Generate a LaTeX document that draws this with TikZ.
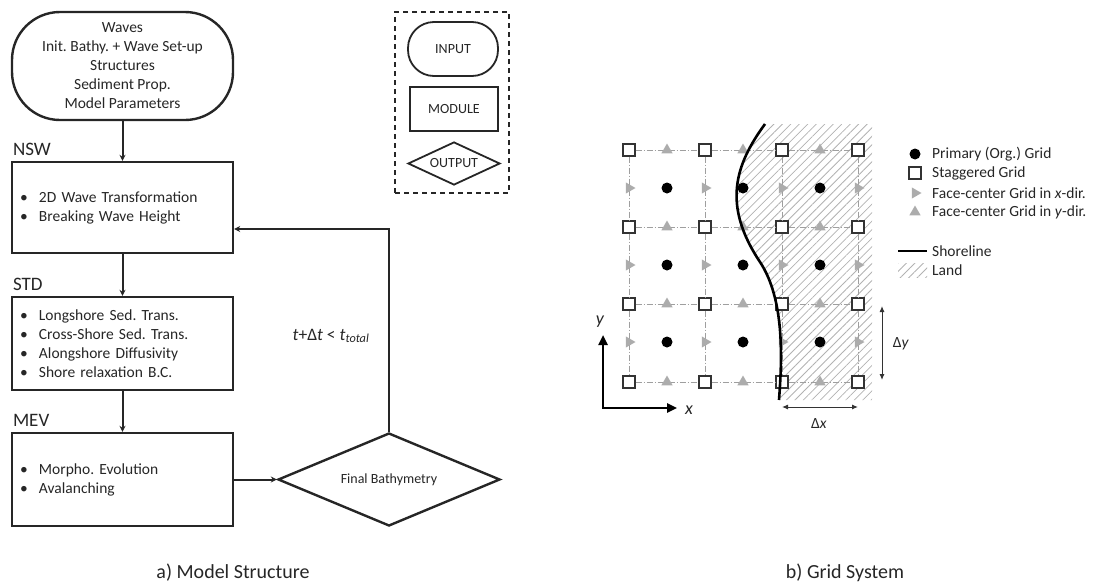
\documentclass[tikz,border=0pt]{standalone}
\usepackage{fontspec}
\setmainfont{Carlito}
\usetikzlibrary{shapes.geometric,arrows.meta,positioning,patterns.meta}

\newcommand{\itm}{\makebox[19pt][l]{\textbullet}}
\frenchspacing

\begin{document}
\begin{tikzpicture}[x=1pt, y=-1pt,
  every node/.style={font=\fontsize{15.5}{19}\selectfont, text=black!85},
  inbox/.style={rectangle, rounded corners=48pt, draw=black!85, line width=2.4pt,
    align=center, minimum width=221pt, minimum height=108pt, inner sep=2pt},
  modbox/.style={rectangle, draw=black!85, line width=2.4pt, align=left,
    text width=205pt, inner xsep=8pt, minimum height=#1},
  outbox/.style={diamond, draw=black!85, line width=2.4pt, aspect=2.4,
    minimum width=222pt, minimum height=93pt, inner sep=1pt, font=\fontsize{14}{17}\selectfont},
  lab/.style={inner sep=0pt, font=\fontsize{19}{22}\selectfont},
  arr/.style={-{Stealth[length=6pt,width=6pt]}, line width=2pt, draw=black!85},
  keyshape/.style={draw=black!85, line width=1.8pt, inner sep=0pt, font=\fontsize{14}{17}\selectfont},
  sgrid/.style={rectangle, draw=black!80, fill=white, line width=1.3pt, minimum size=12pt, inner sep=0pt},
  pgrid/.style={circle, fill=black, minimum size=11pt, inner sep=0pt},
  fygrid/.style={regular polygon, regular polygon sides=3, fill=gray!65, minimum size=13pt, inner sep=0pt},
  fxgrid/.style={fygrid, rotate=-90},
  gline/.style={draw=gray!75, line width=0.9pt, dash pattern=on 6pt off 2pt on 1pt off 2pt},
  shoreline/.style={line width=2.6pt, draw=black},
  landfill/.style={pattern={Lines[angle=45,distance=6pt,line width=0.8pt]}, pattern color=gray!60},
  axisarr/.style={{Triangle[length=10pt,width=9pt]}-{Triangle[length=10pt,width=9pt]}, line width=2.4pt},
  dimarr/.style={{Latex[length=6pt,width=5pt]}-{Latex[length=6pt,width=5pt]}, line width=1pt, draw=black!80},
  legtxt/.style={anchor=west, inner sep=0pt},
  captxt/.style={font=\fontsize{20}{24}\selectfont}
]
\useasboundingbox (0,0) rectangle (1098,584);

% a) model structure
\node[inbox] (inp) at (122.5,66) {Waves\\Init. Bathy. + Wave Set-up\\Structures\\Sediment Prop.\\Model Parameters};
\node[modbox=91pt] (nsw) at (122.5,207.5) {\itm 2D Wave Transformation\\\itm Breaking Wave Height};
\node[modbox=93pt] (std) at (122.5,343.5) {\itm Longshore Sed. Trans.\\\itm Cross-Shore Sed. Trans.\\\itm Alongshore Diffusivity\\\itm Shore relaxation B.C.};
\node[modbox=93pt] (mev) at (122.5,479.5) {\itm Morpho. Evolution\\\itm Avalanching};
\node[outbox] (fin) at (389,479.5) {Final Bathymetry};

\node[lab, above right=5pt and 2pt of nsw.north west] (nswlab) {NSW};
\node[lab, above right=5pt and 2pt of std.north west] (stdlab) {STD};
\node[lab, above right=5pt and 2pt of mev.north west] (mevlab) {MEV};

\draw[arr] (inp) -- (nsw);
\draw[arr] (nsw) -- (std);
\draw[arr] (std) -- (mev);
\draw[arr] (mev) -- (fin);
\draw[arr] (fin.north) |- ([yshift=-21.5pt]nsw.east);
\node[font=\fontsize{17.5}{20}\selectfont] (loop) at (331,336) {\textit{t}+Δ\textit{t} < \textit{t}\textsubscript{\textit{total}}};

% legend
\node[draw=black!85, line width=2pt, dash pattern=on 5pt off 4pt,
  minimum width=114pt, minimum height=181pt] (keybox) at (452,102.5) {};
\node[keyshape, rounded corners=26pt, minimum width=90pt, minimum height=54pt] (kin) at (453,49) {INPUT};
\node[keyshape, minimum width=88pt, minimum height=44pt] (kmod) at (454,109) {MODULE};
\node[keyshape, diamond, aspect=2.14, minimum width=92pt, minimum height=43pt] (kout) at (454,163.5) {OUTPUT};

\node[captxt] (capa) at (233,573) {a) Model Structure};

% b) grid system
\fill[landfill] (765,124) -- (872,124) -- (872,400) -- (779,400)
  .. controls (782,360) and (785,300) .. (760,262)
  .. controls (722,205) and (735,165) .. (765,124) -- cycle;

\foreach \x [count=\i from 0] in {629,705,782,858}
  \foreach \y [count=\j from 0] in {150,227,304,382}
    \node[sgrid] (s-\i-\j) at (\x,\y) {};
\foreach \i/\k in {0/1,1/2,2/3}
  \foreach \j in {0,...,3} {
    \draw[gline] (s-\i-\j) -- (s-\k-\j);
    \draw[gline] (s-\j-\i) -- (s-\j-\k);
  }

\foreach \x in {667,743,820} {
  \foreach \y in {188,265,342}
    \node[pgrid] (p-\x-\y) at (\x,\y) {};
  \foreach \y in {150,227,304,382}
    \node[fygrid] (fy-\x-\y) at (\x,\y) {};
}
\foreach \x in {629,705,782,858}
  \foreach \y in {188,265,342}
    \node[fxgrid] (fx-\x-\y) at (\x,\y) {};

\draw[shoreline] (765,124) .. controls (735,165) and (722,205) .. (760,262)
  .. controls (785,300) and (782,360) .. (779,400);

\coordinate (o) at (603,408);
\coordinate (ya) at (603,335);
\coordinate (xa) at (677,408);
\draw[axisarr] (ya) -- (o) -- (xa);
\node[font=\fontsize{18}{20}\selectfont] (ylab) at (600,322) {\textit{y}};
\node[font=\fontsize{18}{20}\selectfont] (xlab) at (689,410) {\textit{x}};

\coordinate (dx1) at (782,407);
\coordinate (dx2) at (858,407);
\draw[dimarr] (dx1) -- (dx2);
\node (dxlab) at (819,424) {Δ\textit{x}};
\coordinate (dy1) at (882,306);
\coordinate (dy2) at (882,380);
\draw[dimarr] (dy1) -- (dy2);
\node (dylab) at (901,344) {Δ\textit{y}};

\node[pgrid] (k1) at (915,154) {};
\node[sgrid] (k2) at (915,173) {};
\node[fxgrid] (k3) at (915,193) {};
\node[fygrid] (k4) at (915,212) {};
\node[legtxt] (t1) at (932,154) {Primary (Org.) Grid};
\node[legtxt] (t2) at (932,173) {Staggered Grid};
\node[legtxt] (t3) at (932,193) {Face-center Grid in \textit{x}-dir.};
\node[legtxt] (t4) at (932,212) {Face-center Grid in \textit{y}-dir.};
\coordinate (sl1) at (898,251);
\coordinate (sl2) at (927,251);
\draw[shoreline, line width=2pt] (sl1) -- (sl2);
\node[legtxt] (t5) at (932,251) {Shoreline};
\fill[landfill] (898,263) rectangle (927,277);
\node[legtxt] (t6) at (932,270) {Land};

\node[captxt] (capb) at (845,573) {b) Grid System};
\end{tikzpicture}
\end{document}
